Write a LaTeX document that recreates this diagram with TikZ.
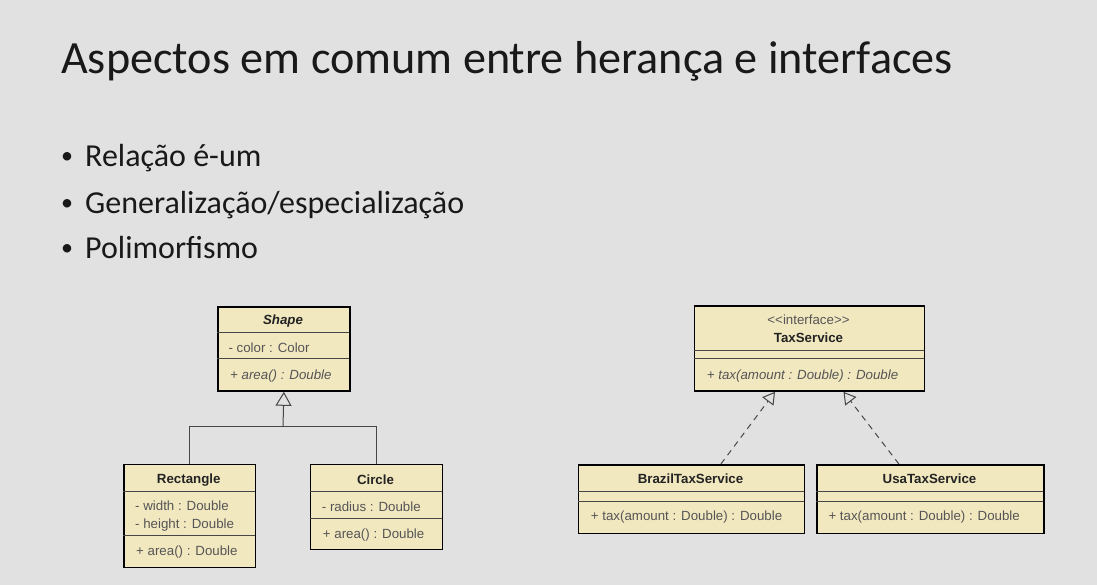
\documentclass[tikz,border=0pt]{standalone}
\usepackage{fontspec}
\setmainfont{Carlito}
\newfontfamily\umlfont{Liberation Sans}
\usetikzlibrary{arrows.meta,calc}
\definecolor{bg}{RGB}{225,225,225}
\definecolor{boxfill}{RGB}{242,232,192}
\definecolor{divgray}{RGB}{70,70,70}
\definecolor{txtdark}{RGB}{35,35,35}
\definecolor{txtgray}{RGB}{85,85,85}
\definecolor{linegray}{RGB}{70,70,70}
\definecolor{slidetext}{RGB}{25,25,25}
\begin{document}
\begin{tikzpicture}[x=1pt,y=-1pt,
  cls/.style={draw=black, line width=1.8pt, fill=boxfill, inner sep=0pt, anchor=north west},
  sepline/.style={draw=divgray, line width=1pt},
  ttl/.style={font=\umlfont\fontsize{13.3}{15}\selectfont\bfseries, text=txtdark, inner sep=0pt, text height=9.5pt, text depth=0pt},
  mem/.style={font=\umlfont\fontsize{13.3}{15}\selectfont, text=txtgray, inner sep=0pt, anchor=west, text height=9.5pt, text depth=0pt},
  conn/.style={draw=linegray, line width=1pt},
  gen/.style={conn, -{Triangle[open, length=14pt, width=16pt, line width=1pt]}},
  real/.style={conn, dash pattern=on 6pt off 5pt, -{Triangle[open, length=12pt, width=14pt, line width=1pt]}},
  slidettl/.style={font=\fontsize{46.2}{50}\selectfont, text=slidetext, inner sep=0pt, anchor=base west},
  bullet/.style={font=\fontsize{32}{36}\selectfont, text=slidetext, inner sep=0pt, anchor=base west},
  dot/.style={font=\fontsize{24}{28}\selectfont, text=slidetext, inner sep=0pt, anchor=base}
]
\fill[bg] (0,0) rectangle (1097,585);
\useasboundingbox (0,0) rectangle (1097,585);

% slide title and bullets
\node[slidettl] (title) at (61,73.3) {Aspectos em comum entre herança e interfaces};
\node[dot] (d1) at (67,163.5) {•};
\node[bullet] (b1) at (85,166.7) {Relação é-um};
\node[dot] (d2) at (67,210.1) {•};
\node[bullet] (b2) at (85,213.3) {Generalização/especialização};
\node[dot] (d3) at (67,255.1) {•};
\node[bullet] (b3) at (85,258.3) {Polimorfismo};

% ---------- inheritance diagram ----------
\node[cls, minimum width=132, minimum height=84] (shape) at (217,306) {};
\draw[sepline] (217,332.3) -- (349,332.3);
\draw[sepline] (217,358.3) -- (349,358.3);
\node[ttl, font=\umlfont\fontsize{13.3}{15}\selectfont\bfseries\itshape] (shapet) at (283,320) {Shape};
\node[mem] (shapea) at (228.3,347.7) {- color : Color};
\node[mem, font=\umlfont\fontsize{13.3}{15}\selectfont\itshape] (shapem) at (230,375) {+ area() : Double};

\node[cls, minimum width=131.5, minimum height=103] (rect) at (123,463.5) {};
\draw[sepline] (123,491) -- (254.5,491);
\draw[sepline] (123,535.7) -- (254.5,535.7);
\node[ttl] (rectt) at (188.75,478.3) {Rectangle};
\node[mem] (recta1) at (135,506) {- width : Double};
\node[mem] (recta2) at (135,523.7) {- height : Double};
\node[mem] (rectm) at (136,551) {+ area() : Double};

\node[cls, minimum width=132, minimum height=85] (circ) at (309.5,463.5) {};
\draw[sepline] (309.5,491) -- (441.5,491);
\draw[sepline] (309.5,518.3) -- (441.5,518.3);
\node[ttl] (circt) at (375.5,479.3) {Circle};
\node[mem] (circa) at (321.7,506.7) {- radius : Double};
\node[mem] (circm) at (322.7,534) {+ area() : Double};

\coordinate (j) at (283,426.7);
\draw[conn] (rect.north) |- (j) -| (circ.north);
\draw[gen] (j) -- (shape.south);

% ---------- interface diagram ----------
\node[cls, minimum width=230, minimum height=85] (tax) at (693.5,305) {};
\draw[sepline] (693.5,350) -- (923.5,350);
\draw[sepline] (693.5,358.3) -- (923.5,358.3);
\node[mem, anchor=center, text=txtgray] (taxs) at (808.5,320) {<{}<interface>{}>};
\node[ttl] (taxt) at (808.5,337.7) {TaxService};
\node[mem, font=\umlfont\fontsize{13.3}{15}\selectfont\itshape] (taxm) at (706.7,374.3) {+ tax(amount : Double) : Double};

\node[cls, minimum width=226, minimum height=68.5] (bra) at (577.5,464) {};
\draw[sepline] (577.5,491.7) -- (803.5,491.7);
\draw[sepline] (577.5,501) -- (803.5,501);
\node[ttl] (brat) at (690.5,479) {BrazilTaxService};
\node[mem] (bram) at (590.7,515.7) {+ tax(amount : Double) : Double};

\node[cls, minimum width=227, minimum height=68.5] (usa) at (816,464) {};
\draw[sepline] (816,491.7) -- (1043,491.7);
\draw[sepline] (816,501) -- (1043,501);
\node[ttl] (usat) at (929.5,479) {UsaTaxService};
\node[mem] (usam) at (828.3,515.7) {+ tax(amount : Double) : Double};

\draw[real] ($(bra.north)+(29.5,0)$) -- ($(tax.south west)+(81.5,0)$);
\draw[real] ($(usa.north)+(-31.5,0)$) -- ($(tax.south west)+(150,0)$);
\end{tikzpicture}
\end{document}
